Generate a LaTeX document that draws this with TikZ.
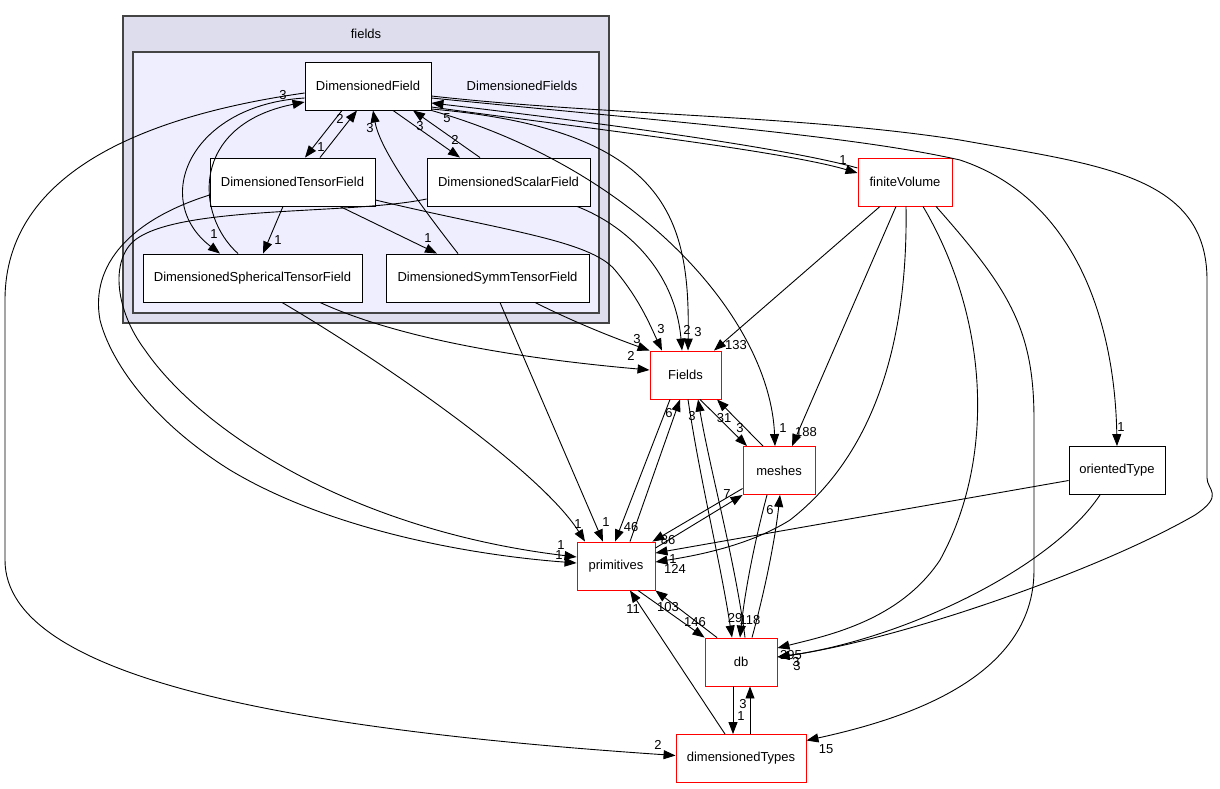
\documentclass[tikz,border=0pt]{standalone}
\usepackage{fontspec}
\setmainfont{Liberation Sans}
\usetikzlibrary{arrows.meta}
\definecolor{outerfill}{HTML}{DDDDEE}
\definecolor{innerfill}{HTML}{EEEEFF}
\definecolor{clborder}{HTML}{444444}
\tikzset{
  txt/.style={font=\fontsize{13}{15}\selectfont},
  box/.style={txt, draw=black, fill=white, line width=0.9pt, minimum height=48pt, inner sep=0pt},
  redbox/.style={box, draw=red},
  clusterbox/.style={draw=clborder, line width=1.3pt, inner sep=0pt},
  dep/.style={-{Triangle[length=12pt,width=9pt]}, line width=0.9pt, black},
  lbl/.style={txt, inner sep=0pt},
}
\begin{document}
\begin{tikzpicture}[x=1pt,y=-1pt]
\useasboundingbox (0,0) rectangle (1220,788);
\fill[white] (0,0) rectangle (1220,788);
% clusters
\node[clusterbox, fill=outerfill, minimum width=486pt, minimum height=307pt] (fieldsCl) at (366,169.5) {};
\node[clusterbox, fill=innerfill, minimum width=466pt, minimum height=261pt] (dfsCl) at (366,182.5) {};
\node[lbl] (fieldsLbl) at (366,34) {fields};
\node[lbl] (dfsLbl) at (522,86) {DimensionedFields};
% nodes
\node[box, minimum width=126pt] (DF) at (368,86) {DimensionedField};
\node[box, minimum width=165pt] (DTF) at (292.5,182) {DimensionedTensorField};
\node[box, minimum width=163pt] (DSF) at (508.5,182) {DimensionedScalarField};
\node[box, minimum width=219pt] (DSph) at (252.5,278) {DimensionedSphericalTensorField};
\node[box, minimum width=203pt] (DSym) at (487.5,278) {DimensionedSymmTensorField};
\node[redbox, minimum width=94pt] (FV) at (905,182) {finiteVolume};
\node[redbox, minimum width=71pt] (Flds) at (685.5,375) {Fields};
\node[redbox, minimum width=72pt] (meshes) at (779,470.5) {meshes};
\node[redbox, minimum width=78pt] (prim) at (616,566) {primitives};
\node[redbox, minimum width=72pt] (db) at (741,662) {db};
\node[redbox, minimum width=130pt] (dimT) at (741,758.5) {dimensionedTypes};
\node[box, minimum width=96pt] (oT) at (1117,470.5) {orientedType};
% edges inside DimensionedFields
\draw[dep] ([xshift=-26pt]DF.south) -- ([xshift=12.5pt]DTF.north);
\draw[dep] ([xshift=27.5pt]DTF.north) -- ([xshift=-11pt]DF.south);
\draw[dep] ([xshift=25pt]DF.south) -- ([xshift=-48.5pt]DSF.north);
\draw[dep] ([xshift=-28.5pt]DSF.north) -- ([xshift=45pt]DF.south);
\draw[dep] ([xshift=-29.5pt]DSym.north) .. controls (420,205) and (380,150) .. ([xshift=5pt]DF.south);
\draw[dep] ([xshift=-14.5pt]DSph.north) .. controls (195,215) and (190,125) .. ([yshift=-16pt]DF.west);
\draw[dep] ([yshift=-12pt]DF.west) .. controls (190,105) and (150,200) .. ([xshift=-32.5pt]DSph.north);
\draw[dep] ([xshift=-9.5pt]DTF.south) -- ([xshift=10.5pt]DSph.north);
\draw[dep] ([xshift=47.5pt]DTF.south) -- ([xshift=-50.5pt]DSym.north);
% DF <-> finiteVolume
\draw[dep] ([yshift=-21pt]DF.east) .. controls (560,125) and (780,150) .. ([yshift=9pt]FV.west);
\draw[dep] ([yshift=14pt]FV.west) .. controls (780,146) and (560,118) .. ([yshift=-17pt]DF.east);
% DF outgoing
\draw[dep] ([yshift=-23pt]DF.east) .. controls (670,130) and (690,220) .. ([xshift=2.5pt]Flds.north);
\draw[dep] (DF.south east) .. controls (640,170) and (770,320) .. ([xshift=-4pt]meshes.north);
\draw[dep] ([yshift=-12pt]DF.east) .. controls (650,120) and (850,135) .. (960,160) .. controls (1080,200) and (1115,330) .. (oT.north);
\draw[dep] ([yshift=-10pt]DF.east) .. controls (600,115) and (800,115) .. (960,140) .. controls (1100,165) and (1207,175) .. (1207,280) -- (1207,478) .. controls (1207,490) and (1225,495) .. (1195,515) .. controls (1100,570) and (900,640) .. ([yshift=5pt]db.east);
\draw[dep] ([yshift=-7pt]DF.west) .. controls (150,115) and (5,170) .. (5,300) -- (5,560) .. controls (5,680) and (300,730) .. ([yshift=3pt]dimT.west);
% into Fields from cluster
\draw[dep] ([xshift=68.5pt]DSF.south) .. controls (625,225) and (675,270) .. ([xshift=-3.5pt]Flds.north);
\draw[dep] ([yshift=-18pt]DTF.east) .. controls (500,230) and (590,240) .. (615,270) .. controls (640,300) and (650,325) .. ([xshift=-23.5pt]Flds.north);
\draw[dep] ([xshift=47.5pt]DSym.south) .. controls (580,325) and (620,340) .. (Flds.north west);
\draw[dep] ([xshift=67.5pt]DSph.south) .. controls (380,330) and (480,355) .. ([yshift=5pt]Flds.west);
% into primitives from cluster
\draw[dep] ([xshift=29.5pt]DSph.south) .. controls (380,360) and (540,470) .. ([xshift=-31pt]prim.north);
\draw[dep] ([xshift=12.5pt]DSym.south) -- ([xshift=-13pt]prim.north);
\draw[dep] ([yshift=-13pt]DTF.west) .. controls (130,220) and (90,265) .. (100,320) .. controls (110,360) and (150,420) .. (230,470) .. controls (330,530) and (470,555) .. ([yshift=3pt]prim.west);
\draw[dep] ([yshift=-17pt]DSF.west) .. controls (350,215) and (180,205) .. (135,240) .. controls (110,260) and (115,310) .. (145,350) .. controls (200,430) and (350,530) .. ([yshift=9pt]prim.west);
% Fields / primitives / meshes / db
\draw[dep] ([xshift=-15.5pt]Flds.south) -- ([xshift=-1pt]prim.north);
\draw[dep] ([xshift=14pt]prim.north) -- ([xshift=-5.5pt]Flds.south);
\draw[dep] ([xshift=14.5pt]Flds.south) -- ([xshift=-32pt]meshes.north);
\draw[dep] ([xshift=-16pt]meshes.north) -- ([xshift=31.5pt]Flds.south);
\draw[dep] ([xshift=-25pt]FV.south) -- ([xshift=28.5pt]Flds.north);
\draw[dep] ([xshift=-9pt]FV.south) -- ([xshift=13pt]meshes.north);
\draw[dep] ([xshift=1pt]FV.south) .. controls (908,330) and (880,450) .. (790,520) .. controls (750,545) and (700,555) .. ([yshift=4pt]prim.east);
\draw[dep] ([yshift=-10pt]oT.west) -- ([yshift=13pt]prim.east);
\draw[dep] ([yshift=-18pt]meshes.west) -- ([xshift=-3pt]prim.north east);
\draw[dep] ([yshift=18pt]prim.east) -- (meshes.south west);
\draw[dep] ([xshift=-12pt]meshes.south) .. controls (755,540) and (745,590) .. ([xshift=-1pt]db.north);
\draw[dep] ([xshift=11pt]db.north) .. controls (765,590) and (775,540) .. ([xshift=1pt]meshes.south);
\draw[dep] ([xshift=2.5pt]Flds.south) .. controls (700,480) and (720,560) .. ([xshift=-9pt]db.north);
\draw[dep] ([xshift=4pt]db.north) .. controls (735,560) and (710,470) .. ([xshift=12.5pt]Flds.south);
\draw[dep] ([xshift=22pt]prim.south) -- (db.north west);
\draw[dep] ([xshift=-24pt]db.north) -- (prim.south east);
\draw[dep] ([xshift=-8pt]db.south) -- ([xshift=-8pt]dimT.north);
\draw[dep] ([xshift=9pt]dimT.north) -- ([xshift=9pt]db.south);
\draw[dep] ([xshift=-16pt]dimT.north) -- ([xshift=14pt]prim.south);
\draw[dep] ([xshift=18pt]FV.south) .. controls (990,320) and (995,460) .. (940,560) .. controls (900,620) and (830,635) .. ([yshift=14pt]db.east);
\draw[dep] ([xshift=-17pt]oT.south) .. controls (1050,570) and (900,640) .. ([yshift=5pt]db.east);
\draw[dep] ([xshift=31pt]FV.south) .. controls (1010,290) and (1034,330) .. (1034,420) -- (1034,570) .. controls (1034,680) and (900,720) .. ([yshift=18pt]dimT.east);
% edge labels
\node[lbl] (l1) at (321,147) {1};
\node[lbl] (l2) at (340,119) {2};
\node[lbl] (l3) at (455,140) {2};
\node[lbl] (l4) at (420,126) {3};
\node[lbl] (l5) at (370,128) {3};
\node[lbl] (l6) at (283,95) {3};
\node[lbl] (l7) at (214,234) {1};
\node[lbl] (l8) at (278,240) {1};
\node[lbl] (l9) at (428,238) {1};
\node[lbl] (l10) at (843,160) {1};
\node[lbl] (l11) at (447,118) {5};
\node[lbl] (l12) at (698,332) {3};
\node[lbl] (l13) at (783,428) {1};
\node[lbl] (l14) at (1121,427) {1};
\node[lbl] (l15) at (796,662) {3};
\node[lbl] (l16) at (658,745) {2};
\node[lbl] (l17) at (687,330) {2};
\node[lbl] (l18) at (661,329) {3};
\node[lbl] (l19) at (637,339) {3};
\node[lbl] (l20) at (631,356) {2};
\node[lbl] (l21) at (578,524) {1};
\node[lbl] (l22) at (606,522) {1};
\node[lbl] (l23) at (561,545) {1};
\node[lbl] (l24) at (559,555) {1};
\node[lbl] (l25) at (631,527) {46};
\node[lbl] (l26) at (669,413) {6};
\node[lbl] (l27) at (740,428) {3};
\node[lbl] (l28) at (724,418) {31};
\node[lbl] (l29) at (736,345) {133};
\node[lbl] (l30) at (806,432) {188};
\node[lbl] (l31) at (675,569) {124};
\node[lbl] (l32) at (673,559) {1};
\node[lbl] (l33) at (668,540) {86};
\node[lbl] (l34) at (727,494) {7};
\node[lbl] (l35) at (750,620) {118};
\node[lbl] (l36) at (770,510) {6};
\node[lbl] (l37) at (735,618) {29};
\node[lbl] (l38) at (692,416) {3};
\node[lbl] (l39) at (695,622) {146};
\node[lbl] (l40) at (668,607) {103};
\node[lbl] (l41) at (741,716) {1};
\node[lbl] (l42) at (743,704) {3};
\node[lbl] (l43) at (633,609) {11};
\node[lbl] (l44) at (791,655) {295};
\node[lbl] (l45) at (797,666) {3};
\node[lbl] (l46) at (826,749) {15};
\end{tikzpicture}
\end{document}
